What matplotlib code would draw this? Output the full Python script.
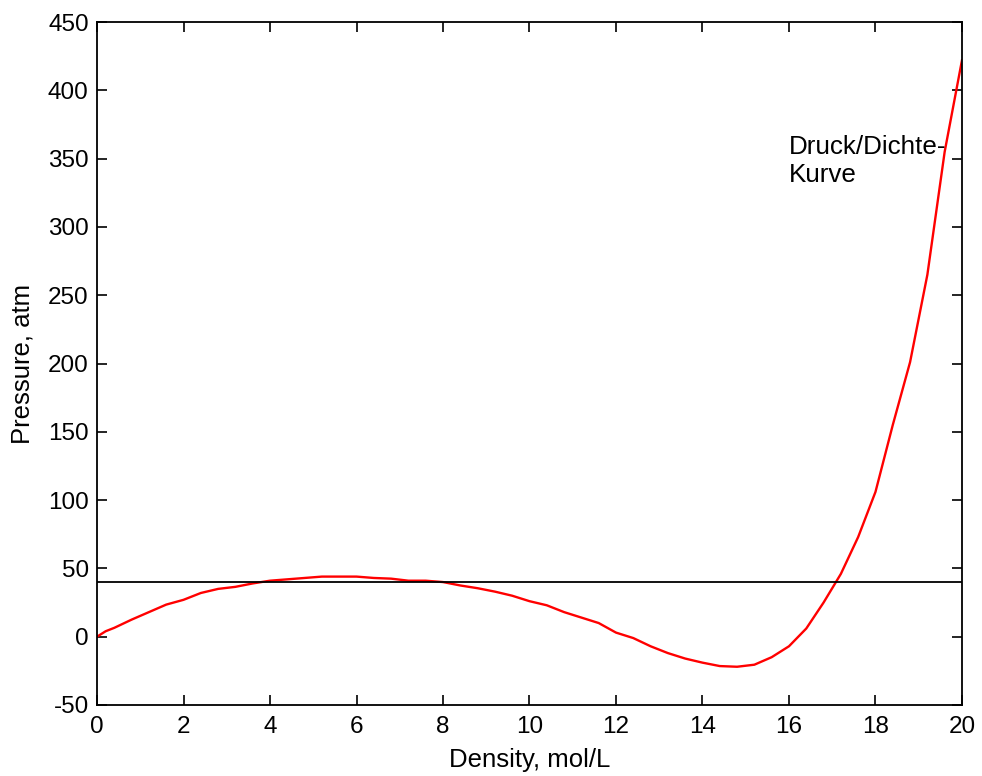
import matplotlib
matplotlib.use('Agg')
import matplotlib.pyplot as plt

plt.rcParams['font.family'] = ['Liberation Sans', 'DejaVu Sans']
plt.rcParams['axes.unicode_minus'] = False

# density (mol/L) and pressure (atm)
density = [0, 0.2, 0.4, 0.8, 1.2, 1.6, 2.0, 2.4, 2.8, 3.2, 3.6, 4.0, 4.4, 4.8,
           5.2, 5.6, 6.0, 6.4, 6.8, 7.2, 7.6, 8.0, 8.4, 8.8, 9.2, 9.6, 10.0,
           10.4, 10.8, 11.2, 11.6, 12.0, 12.4, 12.8, 13.2, 13.6, 14.0, 14.4,
           14.8, 15.2, 15.6, 16.0, 16.4, 16.8, 17.2, 17.6, 18.0, 18.4, 18.8,
           19.2, 19.6, 20.0]
pressure = [0, 4, 6.5, 12.5, 18, 23.5, 27, 32, 35, 36.5, 39, 41, 42, 43,
            44, 44, 44, 43, 42.5, 41, 41, 40, 37.5, 35.5, 33, 30, 26,
            23, 18, 14, 10, 3, -1, -7, -12, -16, -19, -21.5,
            -22, -20.5, -15, -7, 6, 25, 46, 73, 106, 155, 201,
            265, 355, 422]
p_line = 40

fig = plt.figure(figsize=(9.82, 7.76), dpi=100)
ax = fig.add_axes([0.0988, 0.0915, 0.8808, 0.8801])

ax.plot(density, pressure, color='red', lw=1.7)
ax.axhline(p_line, color='black', lw=1.3)

ax.set_xlim(0, 20)
ax.set_ylim(-50, 450)
ax.set_xticks(range(0, 21, 2))
ax.set_yticks(range(-50, 451, 50))
ax.tick_params(direction='in', length=7, width=1.2, labelsize=17.5,
               top=True, right=True)
ax.tick_params(axis='x', pad=8)
ax.tick_params(axis='y', pad=6)
for s in ax.spines.values():
    s.set_linewidth(1.3)

ax.set_xlabel('Density, mol/L', fontsize=18.5, labelpad=7)
ax.set_ylabel('Pressure, atm', fontsize=18.5, labelpad=10)

ax.text(16.0, 333, 'Druck/Dichte-\nKurve', fontsize=18.7, va='baseline',
        ha='left', linespacing=1.2)

fig.savefig('out.png', dpi=100)
